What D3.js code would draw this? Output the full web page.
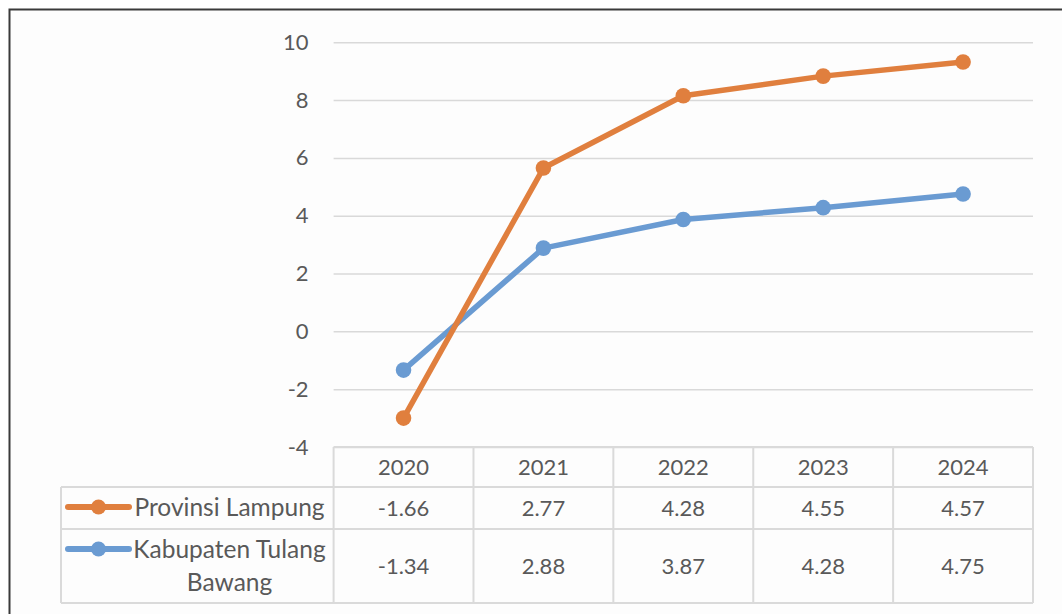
<!DOCTYPE html>
<html>
<head>
<meta charset="utf-8">
<script src="https://cdn.jsdelivr.net/npm/d3@7"></script>
<style>
  body { margin: 0; background: #fff; }
  svg text { font-family: Lato, "Open Sans", sans-serif; fill: #595959; }
</style>
</head>
<body>
<svg width="1062" height="614"></svg>
<script>
const years = ['2020', '2021', '2022', '2023', '2024'];
const lampung = [-1.66, 2.77, 4.28, 4.55, 4.57];
const tulangBawang = [-1.34, 2.88, 3.87, 4.28, 4.75];
const yTicks = [-4, -2, 0, 2, 4, 6, 8, 10];

const seriesColors = {'Provinsi Lampung': '#e07f3e', 'Kabupaten Tulang Bawang': '#6a9bd2'};

const svg = d3.select('svg');
const width = +svg.attr('width');
const height = +svg.attr('height');

// stacked line: the blue series is the base, orange sits on top of it
const rows = years.map((y, i) => ({
  year: y,
  'Kabupaten Tulang Bawang': tulangBawang[i],
  'Provinsi Lampung': lampung[i]
}));
const stacked = d3.stack()
  .keys(['Kabupaten Tulang Bawang', 'Provinsi Lampung'])(rows);

const plot = {left: 333.6, right: 1033, top: 42.3, bottom: 447};
const tableLeft = 61;
const rowLines = [plot.bottom, 487, 529, 603];

// plain hyphen instead of d3's unicode minus
const hyphen = f => v => f(v).replace('\u2212', '-');
const fmtInt = hyphen(d3.format('d'));
const fmt2 = hyphen(d3.format('.2f'));

// chart area with the dark frame
svg.append('rect')
  .attr('x', 9.5).attr('y', 9.5)
  .attr('width', width).attr('height', height)
  .attr('fill', '#fdfdfd')
  .attr('stroke', '#3a3a3a')
  .attr('stroke-width', 2);

const xScale = d3.scaleBand()
  .domain(years)
  .range([plot.left, plot.right])
  .padding(0);

const yScale = d3.scaleLinear()
  .domain([-4, 10])
  .range([plot.bottom, plot.top]);

const yAxis = d3.axisLeft(yScale)
  .tickValues(yTicks)
  .tickSize(-(plot.right - plot.left))
  .tickPadding(25)
  .tickFormat(fmtInt);

const yAxisG = svg.append('g')
  .attr('transform', `translate(${plot.left},0)`)
  .call(yAxis);
yAxisG.select('.domain').remove();
yAxisG.selectAll('.tick line')
  .attr('stroke', '#d9d9d9')
  .attr('stroke-width', 1.5);
yAxisG.selectAll('.tick text')
  .attr('x', -25)
  .style('font-size', '22px')
  .style('font-family', 'Lato, sans-serif')
  .attr('fill', '#595959');

// data table
const table = svg.append('g');
const gridStroke = '#dadada';

rowLines.forEach((y, i) => {
  table.append('line')
    .attr('x1', i === 0 ? plot.left : tableLeft)
    .attr('x2', plot.right)
    .attr('y1', y).attr('y2', y)
    .attr('stroke', gridStroke).attr('stroke-width', 2);
});

const colEdges = years.map(y => xScale(y)).concat([plot.right]);
colEdges.forEach(x => {
  table.append('line')
    .attr('x1', x).attr('x2', x)
    .attr('y1', plot.bottom).attr('y2', rowLines[3])
    .attr('stroke', gridStroke).attr('stroke-width', 2);
});
table.append('line')
  .attr('x1', tableLeft).attr('x2', tableLeft)
  .attr('y1', rowLines[1]).attr('y2', rowLines[3])
  .attr('stroke', gridStroke).attr('stroke-width', 2);

const cx = d => xScale(d) + xScale.bandwidth() / 2;

table.selectAll('.year').data(years)
  .enter().append('text')
    .attr('class', 'year')
    .attr('x', d => cx(d))
    .attr('y', (rowLines[0] + rowLines[1]) / 2)
    .attr('dy', '0.35em')
    .attr('text-anchor', 'middle')
    .style('font-size', '22px')
    .text(d => d);

const tableRows = [
  {name: 'Provinsi Lampung', values: lampung, lines: ['Provinsi Lampung'], y0: rowLines[1], y1: rowLines[2]},
  {name: 'Kabupaten Tulang Bawang', values: tulangBawang, lines: ['Kabupaten Tulang', 'Bawang'], y0: rowLines[2], y1: rowLines[3]}
];

tableRows.forEach(r => {
  const mid = (r.y0 + r.y1) / 2;
  r.values.forEach((v, i) => {
    table.append('text')
      .attr('x', cx(years[i]))
      .attr('y', mid)
      .attr('dy', '0.35em')
      .attr('text-anchor', 'middle')
      .style('font-size', '22px')
      .text(fmt2(v));
  });
  const legendY = r.y0 + 20;
  table.append('line')
    .attr('x1', 68).attr('x2', 129)
    .attr('y1', legendY).attr('y2', legendY)
    .attr('stroke', seriesColors[r.name])
    .attr('stroke-width', 6)
    .attr('stroke-linecap', 'round');
  table.append('circle')
    .attr('cx', 98.5).attr('cy', legendY).attr('r', 7.5)
    .attr('fill', seriesColors[r.name]);
  r.lines.forEach((t, j) => {
    table.append('text')
      .attr('x', 229.5)
      .attr('y', legendY + j * 33)
      .attr('dy', '0.35em')
      .attr('text-anchor', 'middle')
      .style('font-size', '24.5px')
      .text(t);
  });
});

// lines, base series drawn first so orange sits on top
const line = d3.line()
  .x(d => cx(d.data.year))
  .y(d => yScale(d[1]));

const seriesG = svg.append('g')
  .selectAll('g').data(stacked)
  .enter().append('g');

seriesG.append('path')
  .attr('d', d => line(d))
  .attr('fill', 'none')
  .attr('stroke', d => seriesColors[d.key])
  .attr('stroke-width', 5.5)
  .attr('stroke-linejoin', 'round');

seriesG.each(function (s) {
  d3.select(this).selectAll('circle').data(s)
    .enter().append('circle')
      .attr('cx', d => cx(d.data.year))
      .attr('cy', d => yScale(d[1]))
      .attr('r', 7.8)
      .attr('fill', seriesColors[s.key]);
});
</script>
</body>
</html>
